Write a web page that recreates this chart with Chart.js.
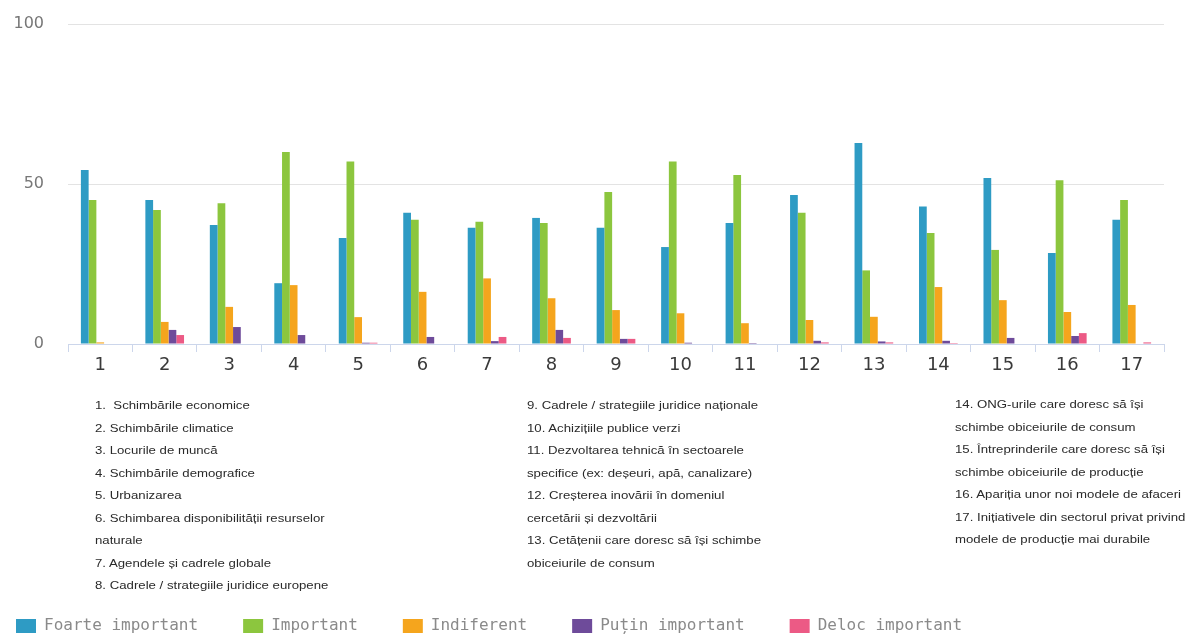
<!DOCTYPE html>
<html>
<head>
<meta charset="utf-8">
<script src="https://cdn.jsdelivr.net/npm/chart.js@4"></script>
<style>
	body { margin: 0; background: #ffffff; }
	#wrap { position: relative; width: 1186px; height: 637px; overflow: hidden; }
	.notes {
		position: absolute;
		font-family: "Liberation Sans", Arial, sans-serif;
		font-size: 11px;
		line-height: 22.5px;
		color: #2a2a2a;
		white-space: nowrap;
		transform: scaleX(1.2);
		transform-origin: left top;
	}
</style>
</head>
<body>
<div id="wrap">
	<canvas id="chart" width="1186" height="637"></canvas>
	<div class="notes" style="left:95px; top:394px;">
		1.&nbsp; Schimbările economice<br>
		2. Schimbările climatice<br>
		3. Locurile de muncă<br>
		4. Schimbările demografice<br>
		5. Urbanizarea<br>
		6. Schimbarea disponibilității resurselor<br>
		naturale<br>
		7. Agendele și cadrele globale<br>
		8. Cadrele / strategiile juridice europene
	</div>
	<div class="notes" style="left:527px; top:394px;">
		9. Cadrele / strategiile juridice naționale<br>
		10. Achizițiile publice verzi<br>
		11. Dezvoltarea tehnică în sectoarele<br>
		specifice (ex: deșeuri, apă, canalizare)<br>
		12. Creșterea inovării în domeniul<br>
		cercetării și dezvoltării<br>
		13. Cetățenii care doresc să își schimbe<br>
		obiceiurile de consum
	</div>
	<div class="notes" style="left:955px; top:393px;">
		14. ONG-urile care doresc să își<br>
		schimbe obiceiurile de consum<br>
		15. Întreprinderile care doresc să își<br>
		schimbe obiceiurile de producție<br>
		16. Apariția unor noi modele de afaceri<br>
		17. Inițiativele din sectorul privat privind<br>
		modele de producție mai durabile
	</div>
</div>
<script>
// categories (numbered factors explained in the notes)
const categories = ['1', '2', '3', '4', '5', '6', '7', '8', '9', '10', '11', '12', '13', '14', '15', '16', '17'];

// series values (%)
const foarteImportant = [54.4, 45, 37.2, 19, 33.1, 41, 36.3, 39.4, 36.3, 30.3, 37.8, 46.6, 62.8, 43, 51.9, 28.4, 38.8];
const important = [45, 41.9, 44, 60, 57, 38.8, 38.2, 37.8, 47.5, 57, 52.8, 41, 23, 34.7, 29.4, 51.2, 45];
const indiferent = [0.5, 6.9, 11.6, 18.4, 8.4, 16.3, 20.5, 14.3, 10.6, 9.6, 6.5, 7.5, 8.5, 17.8, 13.7, 10, 12.2];
const putinImportant = [0, 4.4, 5.3, 2.8, 0.4, 2.2, 0.9, 4.4, 1.6, 0.4, 0.3, 1, 0.8, 1, 1.9, 2.5, 0];
const delocImportant = [0, 2.8, 0, 0, 0.4, 0, 2.2, 1.9, 1.6, 0, 0, 0.5, 0.5, 0.3, 0, 3.4, 0.5];

const yTicks = [0, 50, 100];

const legendPadding = 45;

// nudge the legend row to where the original puts it
const legendShift = {
	id: 'legendShift',
	afterLayout(chart) {
		chart.legend.left = 16 - legendPadding;
		chart.legend.top += 7;
	}
};

const ctx = document.getElementById('chart').getContext('2d');
const chart = new Chart(ctx, {
	type: 'bar',
	data: {
		labels: categories,
		datasets: [
			{ label: 'Foarte important', data: foarteImportant, backgroundColor: '#2e9bc4' },
			{ label: 'Important', data: important, backgroundColor: '#8cc63e' },
			{ label: 'Indiferent', data: indiferent, backgroundColor: '#f5a51d' },
			{ label: 'Puțin important', data: putinImportant, backgroundColor: '#6e4b9a' },
			{ label: 'Deloc important', data: delocImportant, backgroundColor: '#ec5a85' }
		]
	},
	options: {
		responsive: false,
		animation: false,
		datasets: {
			bar: {
				categoryPercentage: 0.6,
				barPercentage: 1,
				borderWidth: 0
			}
		},
		layout: {
			padding: { top: 24, right: 22, left: 0, bottom: 0 }
		},
		plugins: {
			tooltip: { enabled: false },
			legend: {
				position: 'bottom',
				align: 'start',
				labels: {
					boxWidth: 20,
					boxHeight: 14,
					padding: legendPadding,
					color: '#8a8a8a',
					font: { family: 'DejaVu Sans Mono', size: 16 }
				}
			}
		},
		scales: {
			x: {
				grid: {
					display: true,
					drawOnChartArea: false,
					tickLength: 8,
					color: '#ccd6eb'
				},
				border: { color: '#ccd6eb' },
				ticks: {
					color: '#3a3a3a',
					padding: 3,
					maxRotation: 0,
					font: { family: 'DejaVu Sans', size: 18 }
				},
				afterFit(scale) { scale.height = 222; }
			},
			y: {
				min: 0,
				max: 100,
				afterBuildTicks(scale) { scale.ticks = yTicks.map(v => ({ value: v })); },
				grid: { color: '#e3e3e3', drawTicks: false },
				border: { display: false },
				ticks: {
					color: '#777777',
					padding: 24,
					font: { family: 'DejaVu Sans', size: 16 }
				},
				afterFit(scale) {
					scale.width = 68;
					scale.paddingTop = 0;
					scale.paddingBottom = 0;
				}
			}
		}
	},
	plugins: [legendShift]
});
</script>
</body>
</html>
